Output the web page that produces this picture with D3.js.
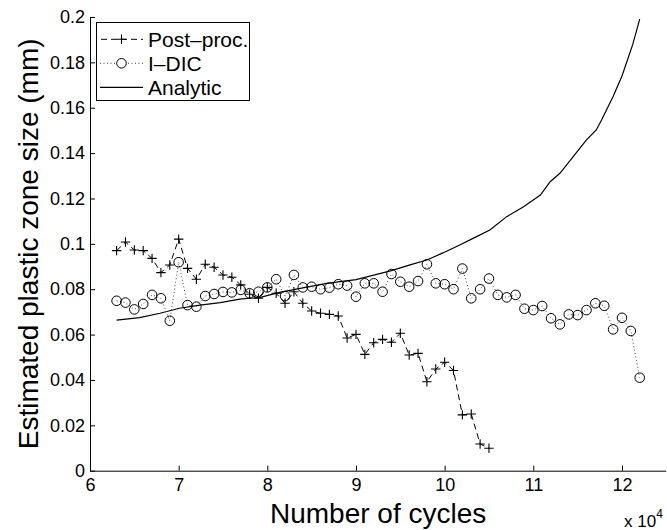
<!DOCTYPE html>
<html>
<head>
<meta charset="utf-8">
<script src="https://cdn.jsdelivr.net/npm/d3@7/dist/d3.min.js"></script>
<style>
  html, body { margin: 0; padding: 0; background: #fff; }
  svg { display: block; font-family: "Liberation Sans", Arial, Helvetica, sans-serif; }
</style>
</head>
<body>
<svg id="chart" width="667" height="530"></svg>
<script>
// ---- Data (cycles in units of 10^4) ----
const postCycles = [6.3,6.4,6.5,6.6,6.7,6.8,6.9,7.0,7.1,7.2,7.3,7.4,7.5,7.6,7.7,7.8,7.9,8.0,8.1,8.2,8.3,8.4,8.5,8.6,8.7,8.8,8.9,9.0,9.1,9.2,9.3,9.4,9.5,9.6,9.7,9.8,9.9,10.0,10.1,10.2,10.3,10.4,10.5];
const postSize = [0.0970,0.1008,0.0973,0.0970,0.0936,0.0873,0.0907,0.1021,0.0892,0.0844,0.0910,0.0897,0.0863,0.0853,0.0819,0.0778,0.0760,0.0808,0.0782,0.0738,0.0789,0.0738,0.0704,0.0694,0.0689,0.0682,0.0585,0.0601,0.0513,0.0564,0.0579,0.0566,0.0606,0.0510,0.0517,0.0392,0.0448,0.0478,0.0442,0.0246,0.0250,0.0118,0.0099];

const dicCycles = [6.3,6.4,6.5,6.6,6.7,6.8,6.9,7.0,7.1,7.2,7.3,7.4,7.5,7.6,7.7,7.8,7.9,8.0,8.1,8.2,8.3,8.4,8.5,8.6,8.7,8.8,8.9,9.0,9.1,9.2,9.3,9.4,9.5,9.6,9.7,9.8,9.9,10.0,10.1,10.2,10.3,10.4,10.5,10.6,10.7,10.8,10.9,11.0,11.1,11.2,11.3,11.4,11.5,11.6,11.7,11.8,11.9,12.0,12.1,12.2];
const dicSize = [0.0749,0.0741,0.0711,0.0735,0.0775,0.0760,0.0661,0.0919,0.0730,0.0723,0.0770,0.0779,0.0788,0.0786,0.0797,0.0782,0.0789,0.0808,0.0844,0.0770,0.0863,0.0808,0.0811,0.0800,0.0807,0.0822,0.0816,0.0767,0.0826,0.0826,0.0789,0.0867,0.0833,0.0811,0.0836,0.0910,0.0826,0.0822,0.0800,0.0891,0.0760,0.0800,0.0847,0.0775,0.0764,0.0775,0.0714,0.0708,0.0726,0.0672,0.0645,0.0689,0.0686,0.0708,0.0738,0.0727,0.0623,0.0674,0.0616,0.0410];

const analyticCycles = [6.30,6.56,6.79,7.01,7.24,7.47,7.69,7.92,8.14,8.40,8.67,9.00,9.20,9.40,9.61,9.80,9.98,10.17,10.32,10.51,10.70,10.89,11.08,11.19,11.30,11.45,11.60,11.71,11.77,11.90,12.00,12.12,12.20];
const analyticSize = [0.0664,0.0675,0.0694,0.0716,0.0730,0.0741,0.0756,0.0764,0.0786,0.0806,0.0826,0.0842,0.0862,0.0882,0.0907,0.0929,0.0960,0.0995,0.1024,0.1061,0.1120,0.1164,0.1215,0.1274,0.1311,0.1384,0.1458,0.1502,0.1546,0.1650,0.1740,0.1877,0.1991];

const xTicks = [6,7,8,9,10,11,12];
const yTicks = [0,0.02,0.04,0.06,0.08,0.1,0.12,0.14,0.16,0.18,0.2];
const legendLabels = ["Post\u2013proc.", "I\u2013DIC", "Analytic"];

// ---- Layout ----
const svg = d3.select("#chart");
const pLeft = 90, pRight = 666.3, pTop = 17, pBottom = 470.7;

const x = d3.scaleLinear().domain([6, 12.5]).range([pLeft, pRight]);
const y = d3.scaleLinear().domain([0, 0.2]).range([pBottom, pTop]);

// Axes (inward ticks, MATLAB style)
const xAxis = d3.axisBottom(x).tickValues(xTicks).tickSize(-5).tickPadding(8)
  .tickFormat(d3.format("d"));
const yAxis = d3.axisLeft(y).tickValues(yTicks).tickSize(-5).tickPadding(5)
  .tickFormat(d => d === 0 ? "0" : String(+d.toFixed(2)));

const gx = svg.append("g").attr("transform", `translate(0,${pBottom})`).call(xAxis);
const gy = svg.append("g").attr("transform", `translate(${pLeft},0)`).call(yAxis);
[gx, gy].forEach(g => {
  g.select(".domain").attr("stroke", "#000").attr("stroke-width", 1);
  g.selectAll(".tick line").attr("stroke", "#000").attr("stroke-width", 1);
  g.selectAll(".tick text").attr("fill", "#000")
    .style("font-size", "18px").style("font-family", "'Liberation Sans', Arial, sans-serif");
});
gx.select(".domain").attr("d", `M${pLeft},0.5H${pRight}`);
gy.select(".domain").attr("d", `M0.5,${pBottom}V${pTop}`);

// Lines
const lineGen = d3.line().x(d => x(d[0])).y(d => y(d[1]));
const postData = postCycles.map((c, i) => [c, postSize[i]]);
const dicData = dicCycles.map((c, i) => [c, dicSize[i]]);
const anaData = analyticCycles.map((c, i) => [c, analyticSize[i]]);

svg.append("path").datum(anaData).attr("d", lineGen)
  .attr("fill", "none").attr("stroke", "#000").attr("stroke-width", 1.2);

svg.append("path").datum(dicData).attr("d", lineGen)
  .attr("fill", "none").attr("stroke", "#444").attr("stroke-width", 1)
  .attr("stroke-dasharray", "1,2.5");

svg.append("path").datum(postData).attr("d", lineGen)
  .attr("fill", "none").attr("stroke", "#000").attr("stroke-width", 1)
  .attr("stroke-dasharray", "6,4");

// Markers
svg.append("g").selectAll("circle").data(dicData).join("circle")
  .attr("cx", d => x(d[0])).attr("cy", d => y(d[1])).attr("r", 4.8)
  .attr("fill", "none").attr("stroke", "#000").attr("stroke-width", 1);

const plusPath = (cx, cy, s) => `M${cx - s},${cy}H${cx + s}M${cx},${cy - s}V${cy + s}`;
svg.append("g").selectAll("path").data(postData).join("path")
  .attr("d", d => plusPath(x(d[0]), y(d[1]), 4.7))
  .attr("fill", "none").attr("stroke", "#000").attr("stroke-width", 1.1);

// Axis labels
svg.append("text").attr("x", (pLeft + pRight) / 2).attr("y", 523)
  .attr("text-anchor", "middle").style("font-size", "28px").text("Number of cycles");
svg.append("text")
  .attr("transform", `translate(38,${(pTop + pBottom) / 2}) rotate(-90)`)
  .attr("text-anchor", "middle").style("font-size", "28px")
  .text("Estimated plastic zone size (mm)");

const mult = svg.append("text").attr("x", 624).attr("y", 527).style("font-size", "17px");
mult.append("tspan").text("x 10");
mult.append("tspan").attr("dy", -9).style("font-size", "12px").text("4");

// Legend
const lg = svg.append("g");
lg.append("rect").attr("x", 96.5).attr("y", 22.5).attr("width", 153).attr("height", 78)
  .attr("fill", "#fff").attr("stroke", "#000").attr("stroke-width", 1);
const rows = [39.3, 63.3, 87.3];
const lx0 = 100, lx1 = 143, lxm = (lx0 + lx1) / 2;
// Post-proc
lg.append("line").attr("x1", lx0).attr("x2", lx1).attr("y1", rows[0]).attr("y2", rows[0])
  .attr("stroke", "#000").attr("stroke-dasharray", "6,4").attr("stroke-dashoffset", -1);
lg.append("path").attr("d", plusPath(lxm, rows[0], 4.7)).attr("stroke", "#000").attr("stroke-width", 1.1);
// I-DIC
lg.append("line").attr("x1", lx0).attr("x2", lx1).attr("y1", rows[1]).attr("y2", rows[1])
  .attr("stroke", "#444").attr("stroke-dasharray", "1,2.5");
lg.append("circle").attr("cx", lxm).attr("cy", rows[1]).attr("r", 4.8)
  .attr("fill", "#fff").attr("stroke", "#000");
// Analytic
lg.append("line").attr("x1", lx0).attr("x2", lx1).attr("y1", rows[2]).attr("y2", rows[2])
  .attr("stroke", "#000").attr("stroke-width", 1.2);
lg.selectAll("text.lbl").data(legendLabels).join("text").attr("class", "lbl")
  .attr("x", 148).attr("y", (d, i) => rows[i] + 7.5)
  .style("font-size", "21px").text(d => d);
</script>
</body>
</html>
